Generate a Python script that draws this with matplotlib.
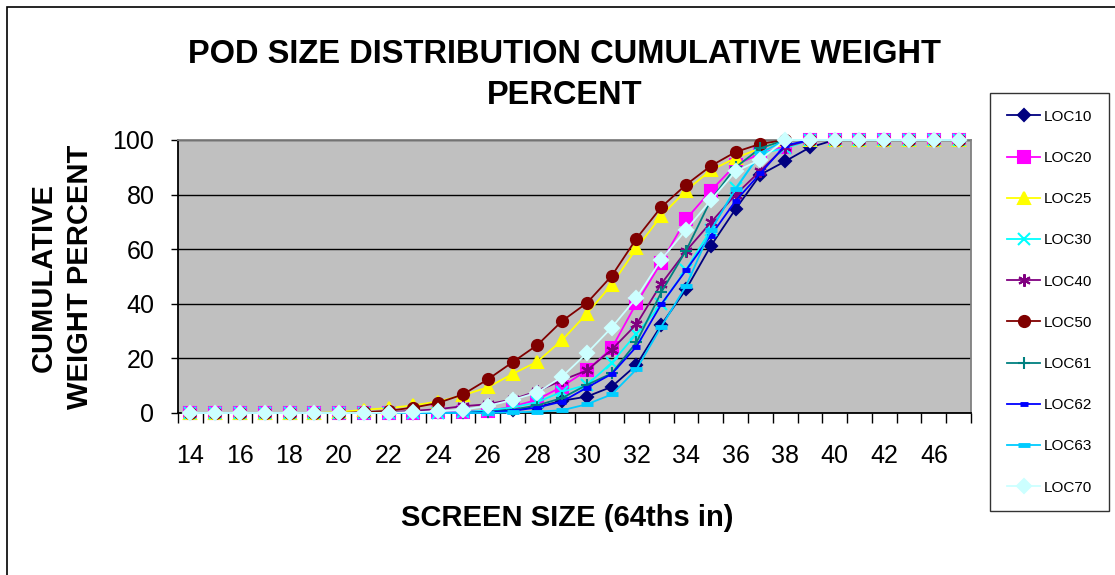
import matplotlib
matplotlib.use('Agg')
import matplotlib.pyplot as plt
from matplotlib.patches import Rectangle

plt.rcParams['font.family'] = ['Liberation Sans', 'DejaVu Sans']

# screen sizes (64ths in); only every other one is labelled on the axis
sizes = list(range(14, 43)) + [44, 46, 48]

loc10 = [0, 0, 0, 0, 0, 0, 0, 0, 0, 0, 0.2, 0.4, 0.7, 1.2, 2.2, 4.5, 6.0, 9.6, 17.6, 32.3,
         45.3, 61.2, 74.7, 87.3, 92.2, 97.3, 100, 100, 100, 100, 100, 100]
loc20 = [0, 0, 0, 0, 0, 0, 0, 0, 0, 0, 0.2, 0.5, 0.8, 2.3, 4.9, 9.7, 15.6, 23.7, 40.2, 55.1,
         71.0, 81.4, 90.9, 95.0, 97.5, 100, 100, 100, 100, 100, 100, 100]
loc25 = [0, 0, 0, 0, 0, 0, 0.3, 1.2, 1.8, 2.8, 4.2, 6.5, 9.4, 14.3, 18.8, 26.7, 36.4, 47.0,
         60.3, 72.2, 81.5, 88.9, 93.4, 97.0, 100, 100, 100, 100, 100, 100, 100, 100]
loc30 = [0, 0, 0, 0, 0, 0, 0, 0, 0, 0, 0, 0.3, 1.0, 2.0, 4.0, 7.8, 10.3, 18.4, 29.0, 39.8,
         52.5, 67.0, 82.3, 95.0, 97.0, 100, 100, 100, 100, 100, 100, 100]
loc40 = [0, 0, 0, 0, 0, 0, 0, 0, 0.3, 0.8, 1.4, 2.5, 3.2, 5.0, 8.0, 12.0, 15.6, 23.2, 32.5,
         47.3, 59.3, 69.8, 80.0, 88.7, 97.5, 100, 100, 100, 100, 100, 100, 100]
loc50 = [0, 0, 0, 0, 0, 0, 0, 0.3, 0.8, 2.0, 3.7, 6.8, 12.3, 18.6, 24.9, 33.7, 40.3, 50.2,
         63.9, 75.4, 83.6, 90.5, 95.6, 98.6, 100, 100, 100, 100, 100, 100, 100, 100]
loc61 = [0, 0, 0, 0, 0, 0, 0, 0, 0, 0, 0, 0, 0.5, 1.2, 2.8, 5.5, 10.3, 14.5, 25.9, 44.2,
         59.5, 78.0, 90.0, 97.0, 100, 100, 100, 100, 100, 100, 100, 100]
loc62 = [0, 0, 0, 0, 0, 0, 0, 0, 0, 0, 0, 0, 0.3, 0.8, 2.0, 4.2, 9.3, 14.3, 24.3, 39.8,
         52.3, 65.0, 77.7, 87.8, 98.0, 100, 100, 100, 100, 100, 100, 100]
loc63 = [0, 0, 0, 0, 0, 0, 0, 0, 0, 0, 0, 0, 0, 0.2, 0.5, 1.0, 3.2, 6.8, 16.0, 31.6,
         46.5, 67.0, 82.0, 95.2, 100, 100, 100, 100, 100, 100, 100, 100]
loc70 = [0, 0, 0, 0, 0, 0, 0, 0, 0.1, 0.3, 0.6, 1.2, 2.6, 4.8, 7.5, 13.3, 21.9, 31.3, 42.2,
         56.2, 67.1, 77.9, 88.5, 92.8, 100, 100, 100, 100, 100, 100, 100, 100]

series = [
    ('LOC10', loc10, '#000080', 'D', 6),
    ('LOC20', loc20, '#FF00FF', 's', 8),
    ('LOC25', loc25, '#FFFF00', '^', 9),
    ('LOC30', loc30, '#00FFFF', 'x', 8),
    ('LOC40', loc40, '#800080', (6, 2, 0), 9),
    ('LOC50', loc50, '#800000', 'o', 8),
    ('LOC61', loc61, '#008080', '+', 9),
    ('LOC62', loc62, '#0000FF', '_', 6),
    ('LOC63', loc63, '#00CCFF', '_', 9),
    ('LOC70', loc70, '#CCFFFF', 'D', 7),
]

fig = plt.figure(figsize=(11.15, 5.75), dpi=100)
ax = fig.add_axes([178 / 1115, 1 - 413 / 575, 793 / 1115, 273 / 575])
ax.set_facecolor('#C0C0C0')

xs = list(range(len(sizes)))
for name, vals, col, mk, ms in series:
    mew = 3.5 if mk == '_' else 1.5
    ax.plot(xs, vals, color=col, marker=mk, markersize=ms, lw=1.3,
            markeredgewidth=mew, markeredgecolor=col, markerfacecolor=col,
            label=name, clip_on=False, zorder=3)

ax.set_xlim(-0.5, len(sizes) - 0.5)
ax.set_ylim(0, 100)
ax.set_yticks([0, 20, 40, 60, 80, 100])
ax.grid(axis='y', color='black', lw=1)
ax.set_axisbelow(True)

ax.set_xticks(xs[::2])
ax.set_xticklabels([str(s) for s in sizes[::2]])
ax.set_xticks([x - 0.5 for x in range(len(sizes) + 1)], minor=True)
ax.tick_params(axis='x', which='major', length=0, pad=22, labelsize=18)
ax.tick_params(axis='x', which='minor', length=7, width=1, direction='out')
ax.tick_params(axis='y', length=5, width=1, pad=12, labelsize=18)

ax.spines['left'].set_color('black')
ax.spines['bottom'].set_color('black')
ax.spines['top'].set_color('#808080')
ax.spines['right'].set_color('#808080')
for s in ax.spines.values():
    s.set_linewidth(1.3)

fig.text(565 / 1115, 1 - 75 / 575, 'POD SIZE DISTRIBUTION CUMULATIVE WEIGHT\nPERCENT',
         ha='center', va='center', fontsize=23.5, fontweight='bold', linespacing=1.45)
fig.text(567 / 1115, 1 - 518 / 575, 'SCREEN SIZE (64ths in)', ha='center', va='center',
         fontsize=21, fontweight='bold')
fig.text(62 / 1115, 1 - 277 / 575, 'CUMULATIVE\nWEIGHT PERCENT', ha='center', va='center',
         rotation=90, fontsize=21, fontweight='bold', linespacing=1.35)

leg = fig.legend(loc='upper left', bbox_to_anchor=(990 / 1115, 1 - 93 / 575),
                 frameon=True, fancybox=False, edgecolor='black', fontsize=11,
                 labelspacing=1.78, handlelength=2.2, borderpad=1.1, handletextpad=0.2,
                 borderaxespad=0)
leg.get_frame().set_linewidth(1)

fig.patches.append(Rectangle((7 / 1115, -0.1), 1.2, 1.1 - 7 / 575, transform=fig.transFigure,
                             fill=False, edgecolor='black', lw=1.2))

fig.savefig('out.png', dpi=100)
